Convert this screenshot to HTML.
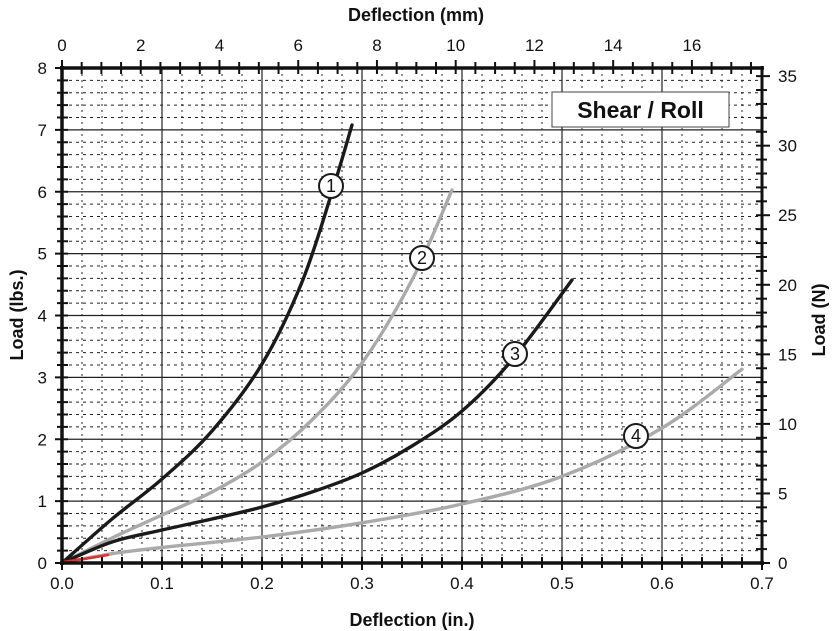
<!DOCTYPE html>
<html><head><style>body{margin:0;background:#fff}svg{display:block}text{font-family:"Liberation Sans",Arial,sans-serif;fill:#111}</style></head>
<body>
<svg id="s" width="832" height="631" xmlns="http://www.w3.org/2000/svg">
<g id="grid"></g>
<rect x="552" y="92" width="177" height="35" fill="#fff" stroke="#444" stroke-width="1"/>
<text x="640.5" y="118" font-size="23" font-weight="bold" text-anchor="middle">Shear / Roll</text>
<g id="curves" fill="none" stroke-linejoin="round" stroke-linecap="round" stroke-width="3.4"></g>
<g id="lbl" font-size="18" text-anchor="middle">
<circle cx="331" cy="186" r="12" fill="#fff" stroke="#1a1a1a" stroke-width="2"/><text x="331" y="192">1</text>
<circle cx="422" cy="258" r="12" fill="#fff" stroke="#1a1a1a" stroke-width="2"/><text x="422" y="264">2</text>
<circle cx="515" cy="354" r="12" fill="#fff" stroke="#1a1a1a" stroke-width="2"/><text x="515" y="360">3</text>
<circle cx="636" cy="436" r="12" fill="#fff" stroke="#1a1a1a" stroke-width="2"/><text x="636" y="442">4</text>
</g>
<g id="axes"></g>
<text x="416" y="21" font-size="18" font-weight="bold" text-anchor="middle">Deflection (mm)</text>
<text x="412" y="626" font-size="18" font-weight="bold" text-anchor="middle">Deflection (in.)</text>
<text transform="translate(23,315) rotate(-90)" font-size="18" font-weight="bold" text-anchor="middle">Load (lbs.)</text>
<text transform="translate(825,320) rotate(-90)" font-size="18" font-weight="bold" text-anchor="middle">Load (N)</text>
</svg>
<script>
var ns="http://www.w3.org/2000/svg";
function el(p,t,a,txt){var e=document.createElementNS(ns,t);for(var k in a)e.setAttribute(k,a[k]);if(txt!==undefined)e.textContent=txt;document.getElementById(p).appendChild(e);return e;}
var L=62,R=762,T=68,B=563,ppl=61.875;
for(var i=0;i<=35;i++){var x=L+i*20;if(i%5)el("grid","line",{x1:x,x2:x,y1:T,y2:B,stroke:"#222","stroke-width":1,"stroke-dasharray":"2,4"});}
for(var j=0;j<=40;j++){var y=B-j*ppl/5;if(j%5)el("grid","line",{x1:L,x2:R,y1:y,y2:y,stroke:"#222","stroke-width":1,"stroke-dasharray":"3,4"});}
for(var i=1;i<7;i++){var x=L+i*100;el("grid","line",{x1:x,x2:x,y1:T,y2:B,stroke:"#222","stroke-width":1.2});}
for(var j=1;j<8;j++){var y=B-j*ppl;el("grid","line",{x1:L,x2:R,y1:y,y2:y,stroke:"#222","stroke-width":1.2});}
function smooth(pts){var d="M"+pts[0][0]+","+pts[0][1];for(var i=0;i<pts.length-1;i++){var p0=pts[i-1]||pts[i],p1=pts[i],p2=pts[i+1],p3=pts[i+2]||p2;
d+=" C"+(p1[0]+(p2[0]-p0[0])/6)+","+(p1[1]+(p2[1]-p0[1])/6)+" "+(p2[0]-(p3[0]-p1[0])/6)+","+(p2[1]-(p3[1]-p1[1])/6)+" "+p2[0]+","+p2[1];}return d;}
var C=[["#aaa",[[62,563],[112,553.7],[162,547.5],[262,537],[362,522.8],[462,504],[562,476.4],[662,428],[742,369.3]]],
["#aaa",[[62,563],[112,538],[162,515],[212,492],[262,462],[312,420],[362,363],[412,280],[452,190]]],
["#1a1a1a",[[62,563],[112,542],[162,530],[212,519],[262,507],[312,492],[362,473],[412,446],[462,411],[512,360],[572,280]]],
["#1a1a1a",[[62,563],[112,519],[162,479],[212,431],[262,364],[302,282],[332,192],[352,125]]]];
C.forEach(function(c){el("curves","path",{d:smooth(c[1]),stroke:c[0]});});
el("curves","path",{d:"M63,562 L90,558 L108,555",stroke:"#e03030","stroke-width":2.5});
el("axes","line",{x1:L,x2:L,y1:T-2,y2:B+2,stroke:"#111","stroke-width":3.5});
el("axes","line",{x1:L-2,x2:R+2,y1:B,y2:B,stroke:"#111","stroke-width":3.5});
el("axes","line",{x1:L-2,x2:R+2,y1:T,y2:T,stroke:"#111","stroke-width":3.5});
el("axes","line",{x1:R,x2:R,y1:T-2,y2:B+2,stroke:"#111","stroke-width":3});
for(var i=0;i<=35;i++){var x=L+i*20;el("axes","line",{x1:x,x2:x,y1:B-6,y2:B+(i%5?5:7),stroke:"#111","stroke-width":2});}
for(var i=0;i<=7;i++)el("axes","text",{x:L+i*100,y:B+26,"font-size":17,"text-anchor":"middle"},(i/10).toFixed(1));
for(var j=0;j<=40;j++){var y=B-j*ppl/5;el("axes","line",{x1:L-(j%5?5:7),x2:L+6,y1:y,y2:y,stroke:"#111","stroke-width":2});}
for(var j=0;j<=8;j++)el("axes","text",{x:47,y:B-j*ppl+6,"font-size":17,"text-anchor":"end"},j);
for(var m=0;m<=35;m++){var x=L+m*0.5*39.37;if(x>R)break;el("axes","line",{x1:x,x2:x,y1:T-(m%4?6:8),y2:T+6,stroke:"#111","stroke-width":2});if(m%4==0)el("axes","text",{x:x,y:T-17,"font-size":17,"text-anchor":"middle"},m/2);}
var pn=ppl/4.448;
for(var n=0;n<=35;n++){var y=B-n*pn;el("axes","line",{x1:R-6,x2:R+(n%5?5:8),y1:y,y2:y,stroke:"#111","stroke-width":2});if(n%5==0)el("axes","text",{x:778,y:y+6,"font-size":17},n);}
</script>
</body></html>
